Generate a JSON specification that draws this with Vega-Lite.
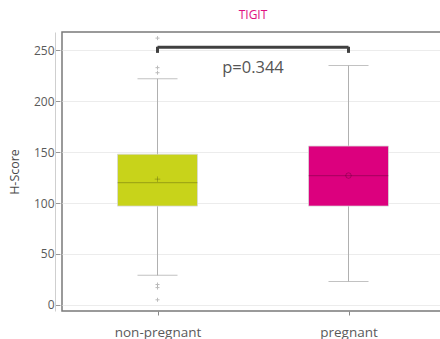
{
  "$schema": "https://vega.github.io/schema/vega-lite/v6.json",
  "width": 382,
  "height": 279,
  "autosize": "none",
  "padding": {"left": 62, "top": 32, "right": 0, "bottom": 28},
  "title": {"text": "TIGIT", "color": "#e0107f", "fontSize": 12, "font": "Open Sans", "fontWeight": "normal", "offset": 10, "anchor": "middle"},
  "config": {
    "font": "Open Sans",
    "view": {"stroke": "#7a7a7a", "strokeWidth": 1.5},
    "axis": {"labelColor": "#5a5a5a", "titleColor": "#4a4a4a", "labelFont": "Open Sans", "titleFont": "Open Sans"}
  },
  "datasets": {
    "stats": [
      {"group": "non-pregnant", "lower": 29, "q1": 97, "median": 120, "q3": 148, "upper": 222, "mean": 123.5, "color": "#c8d31a", "meanShape": "M-1,0H1M0,-1V1"},
      {"group": "pregnant", "lower": 23, "q1": 97, "median": 127, "q3": 156, "upper": 235, "mean": 127, "color": "#dc007e", "meanShape": "circle"}
    ],
    "outliers": [
      {"group": "non-pregnant", "value": 262},
      {"group": "non-pregnant", "value": 233},
      {"group": "non-pregnant", "value": 228},
      {"group": "non-pregnant", "value": 20},
      {"group": "non-pregnant", "value": 17},
      {"group": "non-pregnant", "value": 5}
    ],
    "bracket": [
      {"from": "non-pregnant", "to": "pregnant", "top": 253, "foot": 247.5}
    ],
    "bracketEnds": [
      {"group": "non-pregnant", "top": 253.5, "foot": 247.5},
      {"group": "pregnant", "top": 253.5, "foot": 247.5}
    ],
    "pvalue": [
      {"pos": 0.5, "y": 233, "label": "p=0.344"}
    ]
  },
  "layer": [
    {
      "layer": [
        {
          "data": {"name": "stats"},
          "mark": {"type": "rule", "color": "#b0b0b0", "strokeWidth": 1},
          "encoding": {
            "x": {
              "field": "group", "type": "nominal", "sort": null,
              "scale": {"type": "point", "padding": 0.5},
              "axis": {"title": null, "labelFontSize": 13.5, "labelPadding": 10, "domain": false, "tickColor": "#888", "tickSize": 4, "labelAngle": 0}
            },
            "y": {
              "field": "lower", "type": "quantitative",
              "scale": {"domain": [-6, 268], "nice": false, "zero": false},
              "axis": {"title": "H-Score", "titleFontSize": 12.5, "titleFontWeight": "normal", "titlePadding": 12, "values": [0, 50, 100, 150, 200, 250], "labelFontSize": 12, "labelPadding": 6, "offset": 7, "tickSize": -5, "tickColor": "#999", "domainColor": "#cfcfcf", "gridColor": "#ececec", "grid": true}
            },
            "y2": {"field": "upper"}
          }
        },
        {
          "data": {"name": "stats"},
          "mark": {"type": "tick", "color": "#a8a8a8", "size": 40, "thickness": 1, "orient": "horizontal"},
          "encoding": {"x": {"field": "group", "type": "nominal", "sort": null}, "y": {"field": "lower", "type": "quantitative"}}
        },
        {
          "data": {"name": "stats"},
          "mark": {"type": "tick", "color": "#a8a8a8", "size": 40, "thickness": 1, "orient": "horizontal"},
          "encoding": {"x": {"field": "group", "type": "nominal", "sort": null}, "y": {"field": "upper", "type": "quantitative"}}
        },
        {
          "data": {"name": "stats"},
          "mark": {"type": "bar", "size": 80, "stroke": "#d8d8d8", "strokeWidth": 0.8},
          "encoding": {
            "x": {"field": "group", "type": "nominal", "sort": null},
            "y": {"field": "q1", "type": "quantitative"},
            "y2": {"field": "q3"},
            "color": {"field": "color", "type": "nominal", "scale": null, "legend": null}
          }
        },
        {
          "data": {"name": "stats"},
          "mark": {"type": "tick", "color": "#000", "opacity": 0.2, "size": 80, "thickness": 1.2, "orient": "horizontal"},
          "encoding": {"x": {"field": "group", "type": "nominal", "sort": null}, "y": {"field": "median", "type": "quantitative"}}
        },
        {
          "data": {"name": "stats"},
          "mark": {"type": "point", "filled": false, "stroke": "#000", "strokeOpacity": 0.3, "strokeWidth": 1, "size": 30},
          "encoding": {
            "x": {"field": "group", "type": "nominal", "sort": null},
            "y": {"field": "mean", "type": "quantitative"},
            "shape": {"field": "meanShape", "type": "nominal", "scale": null, "legend": null}
          }
        },
        {
          "data": {"name": "outliers"},
          "mark": {"type": "point", "shape": "M-1,0H1M0,-1V1", "filled": false, "stroke": "#a0a0a0", "strokeWidth": 1, "size": 16},
          "encoding": {"x": {"field": "group", "type": "nominal", "sort": null}, "y": {"field": "value", "type": "quantitative"}}
        },
        {
          "data": {"name": "bracket"},
          "mark": {"type": "rule", "color": "#404040", "strokeWidth": 3},
          "encoding": {
            "x": {"field": "from", "type": "nominal", "sort": null},
            "x2": {"field": "to"},
            "y": {"field": "top", "type": "quantitative"}
          }
        },
        {
          "data": {"name": "bracketEnds"},
          "mark": {"type": "rule", "color": "#404040", "strokeWidth": 3},
          "encoding": {
            "x": {"field": "group", "type": "nominal", "sort": null},
            "y": {"field": "top", "type": "quantitative"},
            "y2": {"field": "foot"}
          }
        }
      ]
    },
    {
      "data": {"name": "pvalue"},
      "mark": {"type": "text", "fontSize": 16.5, "color": "#555555", "font": "Open Sans"},
      "encoding": {
        "x": {"field": "pos", "type": "quantitative", "scale": {"domain": [0, 1]}, "axis": null},
        "y": {"field": "y", "type": "quantitative"},
        "text": {"field": "label"}
      }
    }
  ],
  "resolve": {"scale": {"x": "independent"}}
}
